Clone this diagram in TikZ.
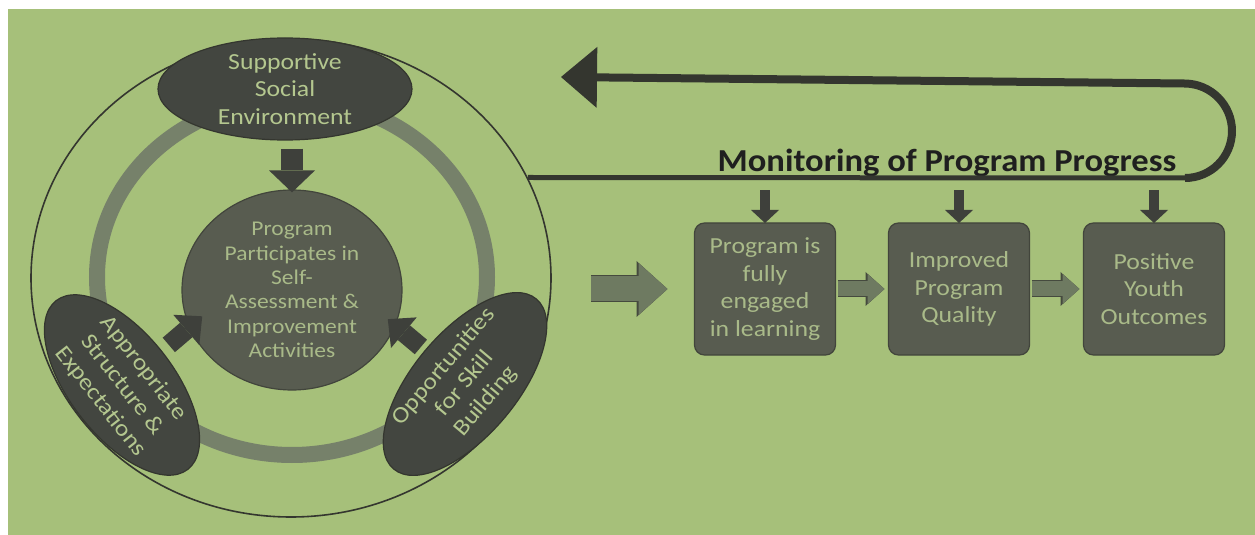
\documentclass[tikz,border=0pt]{standalone}
\usepackage{fontspec}
\setmainfont{Carlito}[FakeStretch=1.12]
\newfontfamily\headfont{Carlito}[FakeStretch=1.08]
\usetikzlibrary{positioning,shapes.geometric,arrows.meta}

\definecolor{bggreen}{HTML}{A6C07A}
\definecolor{darkshape}{HTML}{434640}
\definecolor{midshape}{HTML}{585C50}
\definecolor{ringgray}{HTML}{76816A}
\definecolor{lighttext}{HTML}{B4C78F}
\definecolor{boxtext}{HTML}{A9BA89}
\definecolor{arrowgray}{HTML}{6E7A61}
\definecolor{edgedark}{HTML}{34362F}

\begin{document}
\begin{tikzpicture}[%
    x=0.5pt, y=-0.5pt,
    blob/.style={ellipse, fill=darkshape, draw=edgedark, line width=.6pt,
      text=lighttext, align=center, inner xsep=0pt, inner ysep=-10pt,
      font=\fontsize{11.5}{13.6}\selectfont},
    stepbox/.style={rectangle, rounded corners=5pt, fill=midshape,
      draw=edgedark!60!midshape, line width=.6pt, outer sep=0pt,
      minimum width=70.5pt, minimum height=66pt, text=boxtext, align=center,
      font=\fontsize{11.5}{13.8}\selectfont},
    darrow/.style={draw=darkshape!92!black, line width=11pt,
      -{Triangle[length=11pt,width=23pt,line width=0pt]}},
    sarrow/.style={draw=darkshape!92!black, line width=9.5pt,
      -{Triangle[length=10.5pt,width=20pt,line width=0pt]}},
    tickarrow/.style={draw=darkshape!92!black, line width=5pt,
      -{Triangle[length=6.5pt,width=14pt,line width=0pt]}},
    garrow/.style={draw=arrowgray, line width=7.5pt,
      -{Triangle[length=8.5pt,width=15pt,line width=0pt]},
      preaction={draw=edgedark!70!arrowgray, line width=8.5pt,
        -{Triangle[length=9.5pt,width=17pt,line width=0pt]}}},
    bigarrow/.style={draw=arrowgray, line width=12.5pt,
      -{Triangle[length=14.5pt,width=26pt,line width=0pt]},
      preaction={draw=edgedark!70!arrowgray, line width=13.5pt,
        -{Triangle[length=15.5pt,width=28pt,line width=0pt]}}}
  ]
    \useasboundingbox (0,0) rectangle (1255,535);
    \fill[white] (0,0) rectangle (1255,535);
    \fill[bggreen] (8,9) rectangle (1255,535);

    % the wheel on the left
    \node[ellipse, draw=edgedark, line width=.8pt, inner sep=0pt,
          minimum width=260pt, minimum height=239pt] (wheel) at (291,278) {};
    \draw[ringgray, line width=8pt] (292,277) ellipse [x radius=97.5pt, y radius=89pt];

    \node[blob, fill=midshape, draw=edgedark!60!midshape, text=boxtext,
          minimum width=110pt, minimum height=100pt,
          font=\fontsize{10.5}{12.2}\selectfont] (core) at (292,290)
          {Program\\Participates in\\Self-\\Assessment \&\\Improvement\\Activities};
    \node[blob, minimum width=127pt, minimum height=51pt] (social) at (285,89)
          {Supportive\\Social\\Environment};
    \node[blob, rotate=-52, minimum width=107pt, minimum height=52pt] (structure) at (122,385)
          {Appropriate\\Structure \&\\Expectations};
    \node[blob, rotate=50, minimum width=111pt, minimum height=52pt] (skills) at (465,384)
          {Opportunities\\for Skill\\Building};

    % the row of outcomes
    \node[stepbox] (engaged) at (765,289) {Program is\\fully\\engaged\\in learning};
    \node[stepbox, right=26.5pt of engaged] (quality) {Improved\\Program\\Quality};
    \node[stepbox, right=27pt of quality] (youth) {Positive\\Youth\\Outcomes};

    \node[anchor=base, text=black!88, font=\headfont\bfseries\fontsize{16}{18}\selectfont]
          (monitor) at (947,172) {Monitoring of Program Progress};

    % feedback loop
    \coordinate (loopstart) at (wheel.23);
    \coordinate (bend)      at (1185,178);
    \coordinate (turnlow)   at (1232,178);
    \coordinate (turnhigh)  at (1232,84);
    \coordinate (loopend)   at (561,77);
    \draw[edgedark, line width=2.5pt] (loopstart) -- (bend);
    \draw[edgedark, line width=4pt, rounded corners=23.5pt,
          -{Triangle[length=18pt,width=30.5pt,line width=0pt]}]
          (bend) -- (turnlow) -- (turnhigh) -- (loopend);

    \path (social.south -| core.north) edge[darrow, shorten <=4pt, shorten >=-1.5pt] (core.north)
          (structure)                  edge[sarrow, shorten <=4.5pt, shorten >=-8.5pt] (core.200)
          (skills)                     edge[sarrow, shorten <=2.5pt, shorten >=-5pt]   (core.341)
          (engaged)                    edge[garrow, shorten <=1pt, shorten >=2pt]      (quality)
          (quality)                    edge[garrow, shorten <=1pt, shorten >=2pt]      (youth);

    \draw[bigarrow, shorten <=19.5pt, shorten >=13.5pt] (wheel.east |- engaged.west) -- (engaged.west);

    \foreach \b in {engaged,quality,youth} {\draw[tickarrow, shorten <=6.5pt] (\b.north |- loopstart) -- (\b.north);}
\end{tikzpicture}
\end{document}
